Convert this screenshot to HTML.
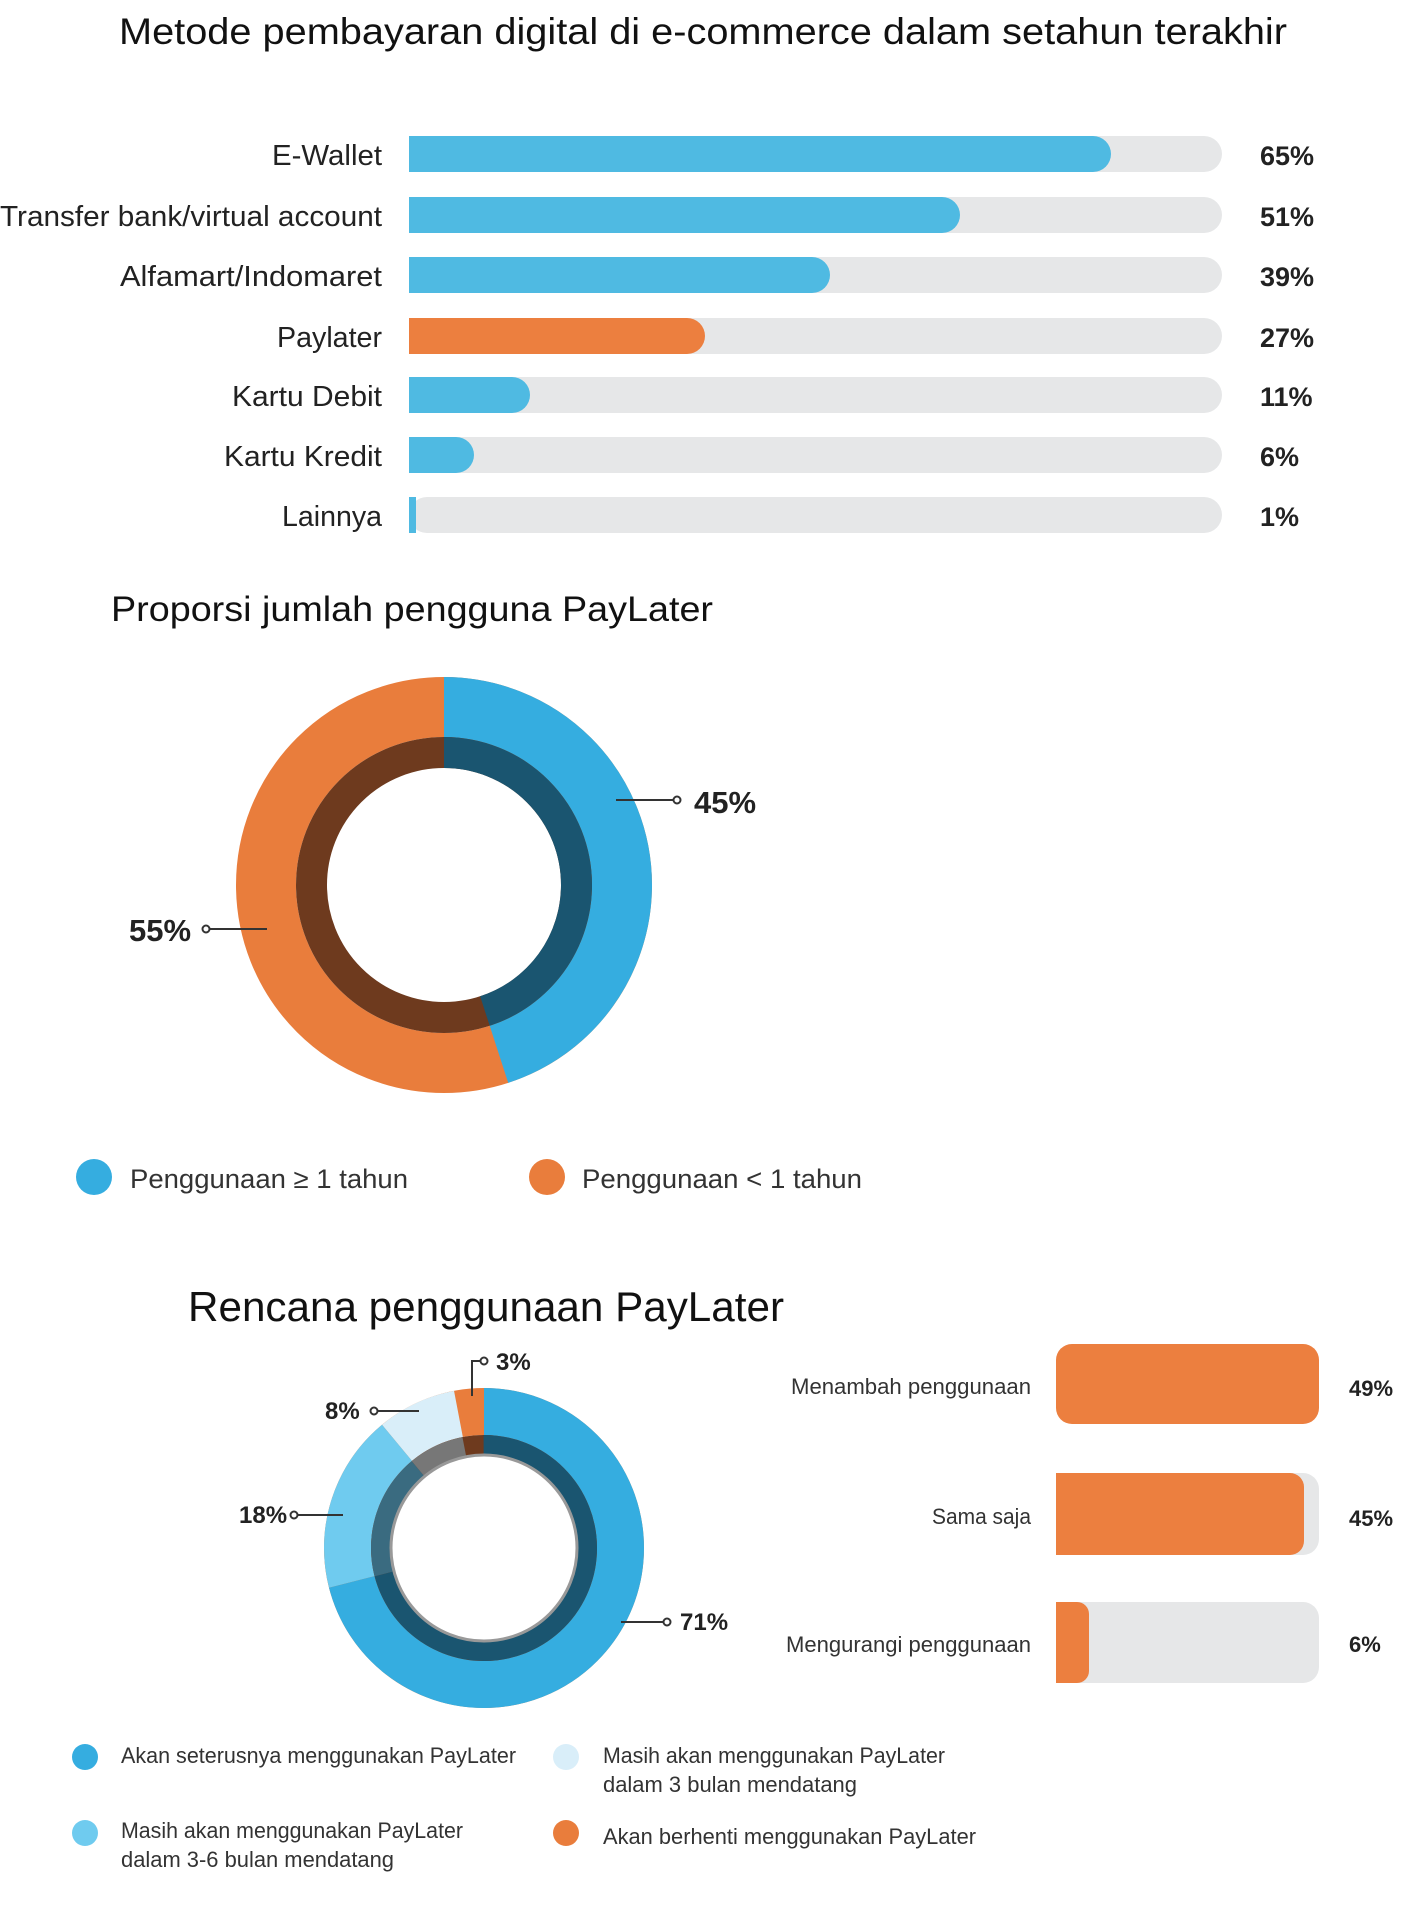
<!DOCTYPE html>
<html><head><meta charset="utf-8"><style>
html,body{margin:0;padding:0;background:#fff;}
svg{display:block;font-family:"Liberation Sans Narrow","Liberation Sans",sans-serif;}
</style></head><body>
<svg width="1419" height="1907" viewBox="0 0 1419 1907" xmlns="http://www.w3.org/2000/svg">
<rect width="1419" height="1907" fill="#fff"/>
<text x="119" y="44" font-size="37" fill="#111" textLength="1168" lengthAdjust="spacingAndGlyphs">Metode pembayaran digital di e-commerce dalam setahun terakhir</text>

<g transform="translate(-2,0)">
<g font-size="29" fill="#222" text-anchor="end">
<text x="384" y="165" textLength="110" lengthAdjust="spacingAndGlyphs">E-Wallet</text>
<text x="384" y="226" textLength="382" lengthAdjust="spacingAndGlyphs">Transfer bank/virtual account</text>
<text x="384" y="286" textLength="262" lengthAdjust="spacingAndGlyphs">Alfamart/Indomaret</text>
<text x="384" y="347" textLength="105" lengthAdjust="spacingAndGlyphs">Paylater</text>
<text x="384" y="406" textLength="150" lengthAdjust="spacingAndGlyphs">Kartu Debit</text>
<text x="384" y="466" textLength="158" lengthAdjust="spacingAndGlyphs">Kartu Kredit</text>
<text x="384" y="526" textLength="100" lengthAdjust="spacingAndGlyphs">Lainnya</text>
</g>
<g transform="translate(0,-1)">
<rect x="411" y="137" width="813" height="36" rx="18" fill="#e6e7e8"/>
<rect x="411" y="198" width="813" height="36" rx="18" fill="#e6e7e8"/>
<rect x="411" y="258" width="813" height="36" rx="18" fill="#e6e7e8"/>
<rect x="411" y="319" width="813" height="36" rx="18" fill="#e6e7e8"/>
<rect x="411" y="378" width="813" height="36" rx="18" fill="#e6e7e8"/>
<rect x="411" y="438" width="813" height="36" rx="18" fill="#e6e7e8"/>
<rect x="411" y="498" width="813" height="36" rx="18" fill="#e6e7e8"/>
<path d="M411 137H1095a18 18 0 0 1 0 36H411Z" fill="#4fbae2"/>
<path d="M411 198H944a18 18 0 0 1 0 36H411Z" fill="#4fbae2"/>
<path d="M411 258H814a18 18 0 0 1 0 36H411Z" fill="#4fbae2"/>
<path d="M411 319H689a18 18 0 0 1 0 36H411Z" fill="#ec7f3f"/>
<path d="M411 378H514a18 18 0 0 1 0 36H411Z" fill="#4fbae2"/>
<path d="M411 438H458a18 18 0 0 1 0 36H411Z" fill="#4fbae2"/>
<rect x="411" y="498" width="7" height="36" fill="#4fbae2"/>
</g>
<g font-size="27" font-weight="bold" fill="#222">
<text x="1262" y="165">65%</text>
<text x="1262" y="226">51%</text>
<text x="1262" y="286">39%</text>
<text x="1262" y="347">27%</text>
<text x="1262" y="406">11%</text>
<text x="1262" y="466">6%</text>
<text x="1262" y="526">1%</text>
</g>
</g>

<text x="111" y="621" font-size="35" fill="#111" textLength="602" lengthAdjust="spacingAndGlyphs">Proporsi jumlah pengguna PayLater</text>
<g transform="translate(-2,-5)">
<g transform="rotate(-90 446 890)">
<circle cx="446" cy="890" r="178" fill="none" stroke="#e97d3c" stroke-width="60"/>
<circle cx="446" cy="890" r="178" fill="none" stroke="#35ade0" stroke-width="60" pathLength="100" stroke-dasharray="45 55"/>
<circle cx="446" cy="890" r="132.5" fill="none" stroke="#6e3a1e" stroke-width="31"/>
<circle cx="446" cy="890" r="132.5" fill="none" stroke="#1a5570" stroke-width="31" pathLength="100" stroke-dasharray="45 55"/>
</g>
<g stroke="#333" stroke-width="2" fill="#fff">
<line x1="618" y1="805" x2="676" y2="805"/><circle cx="679" cy="805" r="3.5"/>
<line x1="211" y1="934" x2="269" y2="934"/><circle cx="208" cy="934" r="3.5"/>
</g>
<g font-size="31" font-weight="bold" fill="#222">
<text x="696" y="818">45%</text>
<text x="131" y="946">55%</text>
</g>
</g>
<g transform="translate(0,-6)">
<circle cx="94" cy="1183" r="18" fill="#35ade0"/>
<circle cx="547" cy="1183" r="18" fill="#e97d3c"/>
<g font-size="27" fill="#333">
<text x="130" y="1194" textLength="278" lengthAdjust="spacingAndGlyphs">Penggunaan ≥ 1 tahun</text>
<text x="582" y="1194" textLength="280" lengthAdjust="spacingAndGlyphs">Penggunaan &lt; 1 tahun</text>
</g>
</g>

<text x="188" y="1321" font-size="42" fill="#111" textLength="596" lengthAdjust="spacingAndGlyphs">Rencana penggunaan PayLater</text>
<g transform="translate(-3,-8)">
<g transform="rotate(-90 487 1556)">
<circle cx="487" cy="1556" r="136.5" fill="none" stroke="#e97d3c" stroke-width="47"/>
<circle cx="487" cy="1556" r="136.5" fill="none" stroke="#d9eef9" stroke-width="47" pathLength="100" stroke-dasharray="0 89 8 3"/>
<circle cx="487" cy="1556" r="136.5" fill="none" stroke="#6fcbef" stroke-width="47" pathLength="100" stroke-dasharray="0 71 18 11"/>
<circle cx="487" cy="1556" r="136.5" fill="none" stroke="#35ade0" stroke-width="47" pathLength="100" stroke-dasharray="71 29"/>
<circle cx="487" cy="1556" r="103.5" fill="none" stroke="#6e3a1e" stroke-width="19"/>
<circle cx="487" cy="1556" r="103.5" fill="none" stroke="#777" stroke-width="19" pathLength="100" stroke-dasharray="0 89 8 3"/>
<circle cx="487" cy="1556" r="103.5" fill="none" stroke="#3a6b80" stroke-width="19" pathLength="100" stroke-dasharray="0 71 18 11"/>
<circle cx="487" cy="1556" r="103.5" fill="none" stroke="#1a5570" stroke-width="19" pathLength="100" stroke-dasharray="71 29"/>
</g>
<circle cx="487" cy="1556" r="93" fill="#fff" stroke="#999" stroke-width="3"/>
<g stroke="#333" stroke-width="2" fill="#fff">
<polyline points="475,1404 475,1369 484,1369" fill="none"/><circle cx="487" cy="1369" r="3.5"/>
<line x1="380" y1="1419" x2="422" y2="1419"/><circle cx="377" cy="1419" r="3.5"/>
<line x1="300" y1="1523" x2="346" y2="1523"/><circle cx="297" cy="1523" r="3.5"/>
<line x1="624" y1="1630" x2="667" y2="1630"/><circle cx="670" cy="1630" r="3.5"/>
</g>
<g font-size="24" font-weight="bold" fill="#222">
<text x="499" y="1378">3%</text>
<text x="328" y="1427">8%</text>
<text x="242" y="1531">18%</text>
<text x="683" y="1638">71%</text>
</g>
</g>

<g transform="translate(-6,-7)">
<rect x="1062" y="1351" width="263" height="80" rx="16" fill="#ec7f3f"/>
<rect x="1062" y="1480" width="263" height="82" rx="16" fill="#e6e7e8"/>
<path d="M1062 1480H1296a14 14 0 0 1 14 14V1548a14 14 0 0 1 -14 14H1062Z" fill="#ec7f3f"/>
<rect x="1062" y="1609" width="263" height="81" rx="16" fill="#e6e7e8"/>
<path d="M1062 1609H1083a12 12 0 0 1 12 12V1678a12 12 0 0 1 -12 12H1062Z" fill="#ec7f3f"/>
<g font-size="22" fill="#333" text-anchor="end">
<text x="1037" y="1401" textLength="240" lengthAdjust="spacingAndGlyphs">Menambah penggunaan</text>
<text x="1037" y="1531" textLength="99" lengthAdjust="spacingAndGlyphs">Sama saja</text>
<text x="1037" y="1659" textLength="245" lengthAdjust="spacingAndGlyphs">Mengurangi penggunaan</text>
</g>
<g font-size="22" font-weight="bold" fill="#222">
<text x="1355" y="1403">49%</text>
<text x="1355" y="1533">45%</text>
<text x="1355" y="1659">6%</text>
</g>
</g>

<g transform="translate(-1,-8)">
<circle cx="86" cy="1765" r="13" fill="#35ade0"/>
<circle cx="567" cy="1765" r="13" fill="#d9eef9"/>
<circle cx="86" cy="1841" r="13" fill="#6fcbef"/>
<circle cx="567" cy="1841" r="13" fill="#e97d3c"/>
<g font-size="22" fill="#333">
<text x="122" y="1771" textLength="395" lengthAdjust="spacingAndGlyphs">Akan seterusnya menggunakan PayLater</text>
<text x="604" y="1771" textLength="342" lengthAdjust="spacingAndGlyphs">Masih akan menggunakan PayLater</text>
<text x="604" y="1800" textLength="254" lengthAdjust="spacingAndGlyphs">dalam 3 bulan mendatang</text>
<text x="122" y="1846" textLength="342" lengthAdjust="spacingAndGlyphs">Masih akan menggunakan PayLater</text>
<text x="122" y="1875" textLength="273" lengthAdjust="spacingAndGlyphs">dalam 3-6 bulan mendatang</text>
<text x="604" y="1852" textLength="373" lengthAdjust="spacingAndGlyphs">Akan berhenti menggunakan PayLater</text>
</g>
</g>
</svg>
</body></html>
